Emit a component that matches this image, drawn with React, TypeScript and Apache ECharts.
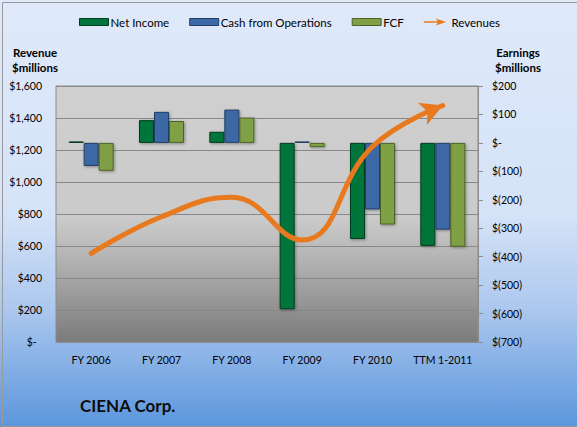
import React, { useEffect, useRef } from "react";
import * as echarts from "echarts";

const categories = ["FY 2006", "FY 2007", "FY 2008", "FY 2009", "FY 2010", "TTM 1-2011"];
const netIncome = [5, 80, 39, -585, -338, -362];
const cashFromOps = [-81, 109, 117, 5, -234, -305];
const fcf = [-98, 77, 89, -15, -287, -365];
const revenues = [554, 783, 904, 637, 1222, 1478];
const leftTicks = { min: 0, max: 1600, interval: 200 };
const rightTicks = { min: -700, max: 200, interval: 100 };

const FONT = "Lato, 'Open Sans', sans-serif";

export default function App() {
  const ref = useRef<HTMLDivElement>(null);
  useEffect(() => {
    document.body.style.margin = "0";
    const chart = echarts.init(ref.current!, null, { renderer: "svg" });
    const barShadow = {
      shadowBlur: 3,
      shadowColor: "rgba(0,0,0,0.35)",
      shadowOffsetX: 1,
      shadowOffsetY: 1,
    };
    const revData: any[] = revenues.map((v, i) =>
      i === revenues.length - 1
        ? { value: v, symbol: "arrow", symbolSize: [18, 22], symbolRotate: -68, symbolOffset: [0, 0] }
        : v
    );
    chart.setOption({
      animation: false,
      backgroundColor: {
        type: "linear",
        x: 0, y: 0, x2: 0, y2: 1,
        colorStops: [
          { offset: 0, color: "#dfe9f9" },
          { offset: 0.5, color: "#d5e3f8" },
          { offset: 0.72, color: "#adc8ee" },
          { offset: 1, color: "#5b96dd" },
        ],
      },
      textStyle: { fontFamily: FONT },
      legend: {
        top: 11,
        left: 74,
        itemWidth: 29,
        itemHeight: 7,
        itemGap: 20,
        textStyle: { fontSize: 11.5, color: "#000", fontFamily: FONT, padding: [0, 0, 0, -3] },
        data: [
          { name: "Net Income", icon: "rect", itemStyle: { borderColor: "#003d1e", borderWidth: 1 } },
          { name: "Cash from Operations", icon: "rect", itemStyle: { borderColor: "#243f66", borderWidth: 1 } },
          { name: "FCF", icon: "rect", itemStyle: { borderColor: "#4c6228", borderWidth: 1 } },
          {
            name: "Revenues",
            icon: "path://M0,4 L20,4 L17,0 L32,5 L17,10 L20,6 L0,6 Z",
            itemStyle: { color: "#e8791e", borderWidth: 0 },
          },
        ],
      },
      grid: {
        left: 56,
        right: 99,
        top: 86,
        bottom: 85,
        show: true,
        borderColor: "#8c8c8c",
        borderWidth: 1,
        backgroundColor: {
          type: "linear",
          x: 0, y: 0, x2: 0, y2: 1,
          colorStops: [
            { offset: 0, color: "#d0d0d0" },
            { offset: 0.52, color: "#cacaca" },
            { offset: 0.64, color: "#b9b9b9" },
            { offset: 1, color: "#7b7b7b" },
          ],
        },
      },
      xAxis: {
        type: "category",
        data: categories,
        axisLine: { show: true, lineStyle: { color: "#8c8c8c" } },
        axisTick: { show: false },
        axisLabel: { fontSize: 10.5, color: "#000", margin: 12, fontFamily: FONT, interval: 0 },
      },
      yAxis: [
        {
          type: "value",
          ...leftTicks,
          position: "left",
          axisLine: { show: false },
          axisTick: { show: false },
          splitLine: { show: true, lineStyle: { color: "#888", width: 1 } },
          axisLabel: {
            fontSize: 10.5,
            color: "#000",
            margin: 14,
            fontFamily: FONT,
            formatter: (v: number) => (v === 0 ? "$-  " : "$" + v.toLocaleString("en-US")),
          },
        },
        {
          type: "value",
          ...rightTicks,
          position: "right",
          axisLine: { show: true, lineStyle: { color: "#8c8c8c" } },
          axisTick: { show: true, length: 5, lineStyle: { color: "#8c8c8c" } },
          splitLine: { show: false },
          axisLabel: {
            fontSize: 10.5,
            color: "#000",
            margin: 14,
            fontFamily: FONT,
            formatter: (v: number) => (v === 0 ? "$-" : v < 0 ? "$(" + -v + ")" : "$" + v),
          },
        },
      ],
      series: [
        {
          name: "Net Income",
          type: "bar",
          yAxisIndex: 1,
          data: netIncome,
          barWidth: 15,
          barGap: "0%",
          itemStyle: { color: "#00743a", borderColor: "#003d1e", borderWidth: 1, ...barShadow },
        },
        {
          name: "Cash from Operations",
          type: "bar",
          yAxisIndex: 1,
          data: cashFromOps,
          barWidth: 15,
          barGap: "0%",
          itemStyle: { color: "#3c68a6", borderColor: "#243f66", borderWidth: 1, ...barShadow },
        },
        {
          name: "FCF",
          type: "bar",
          yAxisIndex: 1,
          data: fcf,
          barWidth: 15,
          barGap: "0%",
          itemStyle: { color: "#80a044", borderColor: "#4c6228", borderWidth: 1, ...barShadow },
        },
        {
          name: "Revenues",
          type: "line",
          yAxisIndex: 0,
          data: revData,
          smooth: 0.45,
          symbol: "none",
          showSymbol: true,
          itemStyle: { color: "#e8791e" },
          lineStyle: { color: "#e8791e", width: 5, cap: "round" },
          z: 5,
        },
      ],
      graphic: [
        {
          type: "text",
          x: 35,
          y: 45,
          style: {
            text: "Revenue\n$millions",
            fontSize: 11.5,
            fontWeight: "bold",
            fill: "#000",
            fontFamily: FONT,
            lineHeight: 15,
            align: "center",
          },
        },
        {
          type: "text",
          x: 518,
          y: 45,
          style: {
            text: "Earnings\n$millions",
            fontSize: 11.5,
            fontWeight: "bold",
            fill: "#000",
            fontFamily: FONT,
            lineHeight: 15,
            align: "center",
          },
        },
        {
          type: "text",
          left: 80,
          top: 397,
          style: {
            text: "CIENA Corp.",
            fontSize: 17,
            fontWeight: "bold",
            fill: "#0d0d0d",
            fontFamily: FONT,
          },
        },
        {
          type: "rect",
          left: 0,
          top: 0,
          shape: { x: 0, y: 0, width: 576, height: 424 },
          style: { fill: "none", stroke: "#9a9a9a", lineWidth: 1 },
          silent: true,
        },
      ],
    });
    return () => chart.dispose();
  }, []);
  return <div ref={ref} style={{ width: 577, height: 427 }} />;
}
